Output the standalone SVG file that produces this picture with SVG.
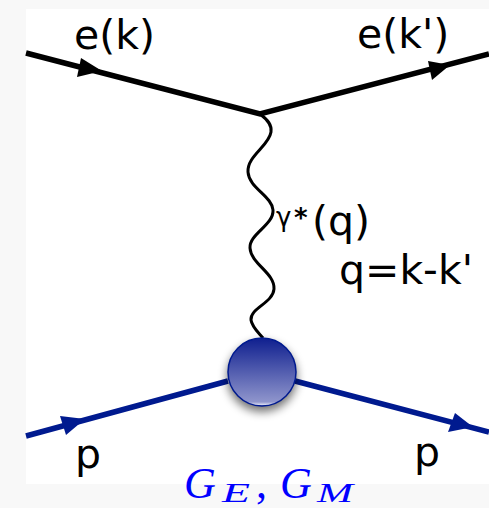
<svg xmlns="http://www.w3.org/2000/svg" width="489" height="508" viewBox="0 0 489 508">
<style>
.t{font-family:"DejaVu Sans",sans-serif;font-size:41px;fill:#000}
.m{font-family:"Liberation Serif",serif;font-style:italic;fill:#0000ff}
.e{fill:none;stroke:#000;stroke-width:5.5}
.p{fill:none;stroke:#001a8f;stroke-width:5.5}
</style>
<defs>
<linearGradient id="g" x1="0" y1="0" x2="0" y2="1">
<stop offset="0" stop-color="#0f1f8f"/><stop offset="0.94" stop-color="#8f95cc"/><stop offset="0.98" stop-color="#d5d8ee"/><stop offset="1" stop-color="#8f95cc"/>
</linearGradient>
<filter id="s" x="-40%" y="-40%" width="180%" height="180%"><feGaussianBlur stdDeviation="5"/></filter>
</defs>
<rect width="489" height="508" fill="#f8f8f8"/>
<rect x="26" y="9" width="463" height="475" fill="#fff"/>
<g id="connectors">
<path class="e" d="M26 53L260 114L489 54"/>
<path d="M81 58L102 71L77 77Z"/>
<path d="M428 61L450 65L432 80Z"/>
<path fill="none" stroke="#000" stroke-width="3" d="M260 114C268 120 272 125 271 132C269 146 247 156 248 172C249 188 272 196 273 210C274 225 249 234 250 248C251 264 275 273 274 289C273 303 250 308 251 320C252 327 258 332 263 338"/>
<path class="p" d="M26 436L228 381M295 381L489 432"/>
<path fill="#001a8f" d="M60 416L85 419L66 435Z"/>
<path fill="#001a8f" d="M455 413L473 427L448 432Z"/>
</g>
<g id="vertex">
<circle cx="262" cy="377" r="35" fill="#000" opacity="0.55" filter="url(#s)"/>
<circle cx="262" cy="372" r="34" fill="url(#g)" stroke="#001a8f" stroke-width="1.5"/>
</g>
<g id="labels">
<text class="t" x="74" y="49">e(k)</text>
<text class="t" x="357" y="48">e(k')</text>
<text class="t" x="276" y="226" style="font-size:26px">γ</text>
<text class="t" x="294" y="227" style="font-size:26px;font-weight:bold">*</text>
<text class="t" x="312" y="235">(q)</text>
<text class="t" x="339" y="284">q=k-k'</text>
<text class="t" x="75" y="468">p</text>
<text class="t" x="414" y="466">p</text>
<text class="m" x="184" y="498" font-size="44">G</text>
<text class="m" x="222" y="501.5" font-size="28" textLength="28" lengthAdjust="spacingAndGlyphs">E</text>
<text class="m" x="256" y="498" font-size="44" style="font-style:normal">,</text>
<text class="m" x="280" y="498" font-size="44">G</text>
<text class="m" x="317" y="501.5" font-size="28" textLength="36" lengthAdjust="spacingAndGlyphs">M</text>
</g>
</svg>
